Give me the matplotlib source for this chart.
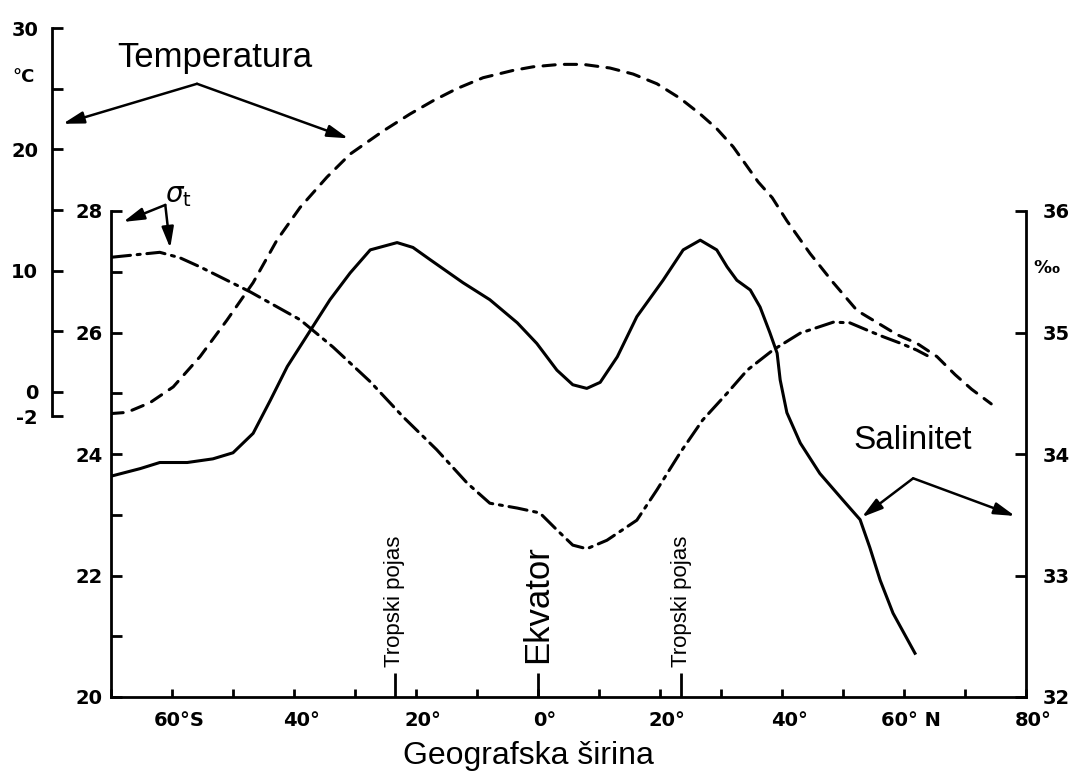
import numpy as np
import matplotlib.pyplot as plt
from matplotlib.transforms import ScaledTranslation

# temperatura (°C) po geografskoj sirini
temp_lat = [-70, -67.4, -63.6, -59.8, -55.4, -51.0, -46.7, -42.8, -39.0, -34.6, -30.8, -25.4, -21.0,
            -17.2, -13.3, -9.0, -4.1, -0.8, 3.6, 7.4, 11.8, 15.6, 19.5, 23.3, 26.6, 29.3, 32.0, 36.1,
            38.4, 40.8, 44.6, 48.4, 52.3, 55.6, 58.9, 62.1, 65.4, 68.4, 71.1, 74.3]
temp_val = [-1.8, -1.7, -0.9, 0.4, 2.9, 5.9, 9.0, 12.5, 15.2, 17.7, 19.6, 21.5, 22.9,
            24.0, 25.0, 25.9, 26.5, 26.8, 27.0, 27.0, 26.7, 26.2, 25.4, 24.2, 22.9, 21.7, 20.2, 17.3,
            16.0, 14.1, 11.4, 9.0, 6.7, 5.7, 4.7, 4.0, 2.9, 1.4, 0.2, -1.0]

# sigma-t
sig_lat = [-69.8, -62.0, -58.7, -55.4, -47.2, -39.0, -33.6, -27.5, -22.1, -16.6, -11.6, -7.9, -3.4,
           0.3, 3.1, 5.7, 8.0, 11.3, 16.2, 19.5, 23.3, 27.0, 31.0, 34.3, 38.5, 43.0, 48.4, 51.1,
           54.4, 56.6, 59.5, 62.1, 63.8]
sig_val = [27.24, 27.32, 27.23, 27.08, 26.67, 26.21, 25.76, 25.19, 24.61, 24.07, 23.52, 23.19, 23.11,
           23.03, 22.75, 22.50, 22.44, 22.58, 22.91, 23.41, 24.02, 24.56, 25.00, 25.38, 25.71, 25.99,
           26.17, 26.16, 26.02, 25.93, 25.82, 25.71, 25.62]

# salinitet (promili)
sal_lat = [-69.8, -65.2, -62.0, -57.5, -53.3, -50.0, -46.7, -43.9, -41.1, -36.9, -34.1, -30.8, -27.5,
           -23.1, -20.5, -17.7, -12.3, -7.9, -3.4, -0.2, 3.1, 5.7, 8.0, 10.2, 13.0, 16.2, 20.5, 23.8,
           26.6, 29.3, 31.0, 32.6, 34.8, 36.4, 38.0, 39.2, 39.7, 40.8, 43.0, 46.2, 50.0, 52.8, 54.4,
           56.1, 58.2, 61.8]
sal_val = [33.82, 33.88, 33.93, 33.93, 33.96, 34.01, 34.17, 34.44, 34.72, 35.05, 35.27, 35.49, 35.68,
           35.74, 35.70, 35.60, 35.41, 35.27, 35.08, 34.91, 34.69, 34.57, 34.54, 34.59, 34.80, 35.13,
           35.43, 35.68, 35.76, 35.68, 35.54, 35.43, 35.35, 35.21, 35.00, 34.83, 34.61, 34.34, 34.09,
           33.84, 33.62, 33.46, 33.23, 32.96, 32.69, 32.36]

lat_ticks = [-60, -40, -20, 0, 20, 40, 60, 80]
lat_labels = ['60°S', '40°', '20°', '0°', '20°', '40°', '60° N', '80°']
tropics = [-23.5, 0, 23.5]
temp_ticks = [-2, 0, 10, 20, 30]
temp_labels = ['-2', '0', '10', '20', '30']

W, H = 1078, 772
fig = plt.figure(figsize=(W / 100, H / 100), dpi=100)
ax = fig.add_axes([111 / W, 75 / H, 915 / W, 486 / H])
ax_s = ax.twinx()
ax_t = fig.add_axes([111 / W, 356 / H, 915 / W, 388 / H])
ax_t.patch.set_visible(False)

tickfont = dict(family='DejaVu Sans', weight='bold', size=14)
txtfont = 'Liberation Sans'
lw = 2.2
line_kw = dict(color='black', lw=lw, solid_joinstyle='round', dash_joinstyle='round',
               dash_capstyle='round')

# linije
ax_t.plot(temp_lat, temp_val, linestyle=(0, (4, 3)), **line_kw)
ax.plot(sig_lat, sig_val, linestyle=(0, (6, 2.2, 1, 2.2)), **line_kw)
ax_s.plot(sal_lat, sal_val, linestyle='-', **line_kw)

# osa sigma-t
ax.set_xlim(-70, 80)
ax.set_ylim(20, 28)
ax.set_yticks([20, 22, 24, 26, 28])
ax.set_yticks([21, 23, 25, 27], minor=True)
ax.set_xticks(lat_ticks)
ax.set_xticklabels(lat_labels)
ax.set_xticks(np.arange(-70, 80, 10), minor=True)
ax.tick_params(axis='y', which='both', direction='in', length=8, width=2, pad=6)
ax.tick_params(axis='x', which='both', direction='in', length=6, width=2, pad=10)
for sp in ['top', 'right']:
    ax.spines[sp].set_visible(False)
for sp in ['left', 'bottom']:
    ax.spines[sp].set_linewidth(2)

offset = ScaledTranslation(7 / 100, 0, fig.dpi_scale_trans)
for lab in ax.get_xticklabels():
    lab.set_transform(lab.get_transform() + offset)
for lab in ax.get_xticklabels() + ax.get_yticklabels():
    lab.set_fontproperties(tickfont)

sec = ax.secondary_xaxis('bottom')
sec.set_xticks(tropics)
sec.tick_params(direction='in', length=17, width=2, labelbottom=False)
sec.spines['bottom'].set_visible(False)

# osa salinitet
ax_s.set_ylim(32, 36)
ax_s.set_yticks([32, 33, 34, 35, 36])
ax_s.tick_params(axis='y', direction='in', length=8, width=2, pad=12)
for sp in ['top', 'left', 'bottom']:
    ax_s.spines[sp].set_visible(False)
ax_s.spines['right'].set_linewidth(2)
for lab in ax_s.get_yticklabels():
    lab.set_fontproperties(tickfont)

# osa temperatura
ax_t.set_xlim(-70, 80)
ax_t.set_ylim(-2, 30)
ax_t.set_xticks([])
ax_t.set_yticks(temp_ticks)
ax_t.set_yticklabels(temp_labels)
ax_t.set_yticks([5, 15, 25], minor=True)
ax_t.tick_params(axis='y', which='both', direction='in', length=8, width=2, pad=10)
for sp in ['top', 'right', 'bottom']:
    ax_t.spines[sp].set_visible(False)
ax_t.spines['left'].set_position(('outward', 42.5))
ax_t.spines['left'].set_linewidth(2)
for lab in ax_t.get_yticklabels():
    lab.set_fontproperties(tickfont)

# natpisi i strelice
arr = dict(arrowstyle='-|>,head_length=0.7,head_width=0.2', lw=1.8, color='black',
           mutation_scale=18, shrinkA=0, shrinkB=0)

ax_t.text(-53, 27.6, 'Temperatura', ha='center', va='center', fontsize=25, family=txtfont)
for end in [(-77.9, 22.1), (-31.1, 20.9)]:
    ax_t.annotate('', xy=end, xytext=(-55.9, 25.4), arrowprops=arr, annotation_clip=False)
ax_t.text(-84.4, 26.0, '°C', ha='center', va='center', fontsize=13, fontweight='bold',
          family='DejaVu Sans', clip_on=False)

ax.text(-59, 28.26, r'$\sigma_\mathrm{t}$', ha='center', va='center', fontsize=20, clip_on=False)
for end in [(-68.0, 27.82), (-60.3, 27.39)]:
    ax.annotate('', xy=end, xytext=(-61.1, 28.1), arrowprops=arr, annotation_clip=False)

ax_s.text(61.5, 33.98, 'Salinitet', ha='center', va='bottom', fontsize=24, family=txtfont)
for end in [(53.1, 33.48), (78.2, 33.49)]:
    ax_s.annotate('', xy=end, xytext=(61.5, 33.80), arrowprops=arr, annotation_clip=False)
ax_s.text(83.3, 35.53, '‰', ha='center', va='center', fontsize=13, fontweight='bold',
          family='DejaVu Sans', clip_on=False)

for t in [-23.5, 23.5]:
    ax.text(t, 20.49, 'Tropski pojas', rotation=90, ha='center', va='bottom', fontsize=16,
            family=txtfont)
ax.text(0, 20.56, 'Ekvator', rotation=90, ha='center', va='bottom', fontsize=25, family=txtfont)

fig.text(528 / W, 8 / H, 'Geografska širina', ha='center', va='baseline', fontsize=23,
         family=txtfont)

fig.savefig('out.png', dpi=100)
